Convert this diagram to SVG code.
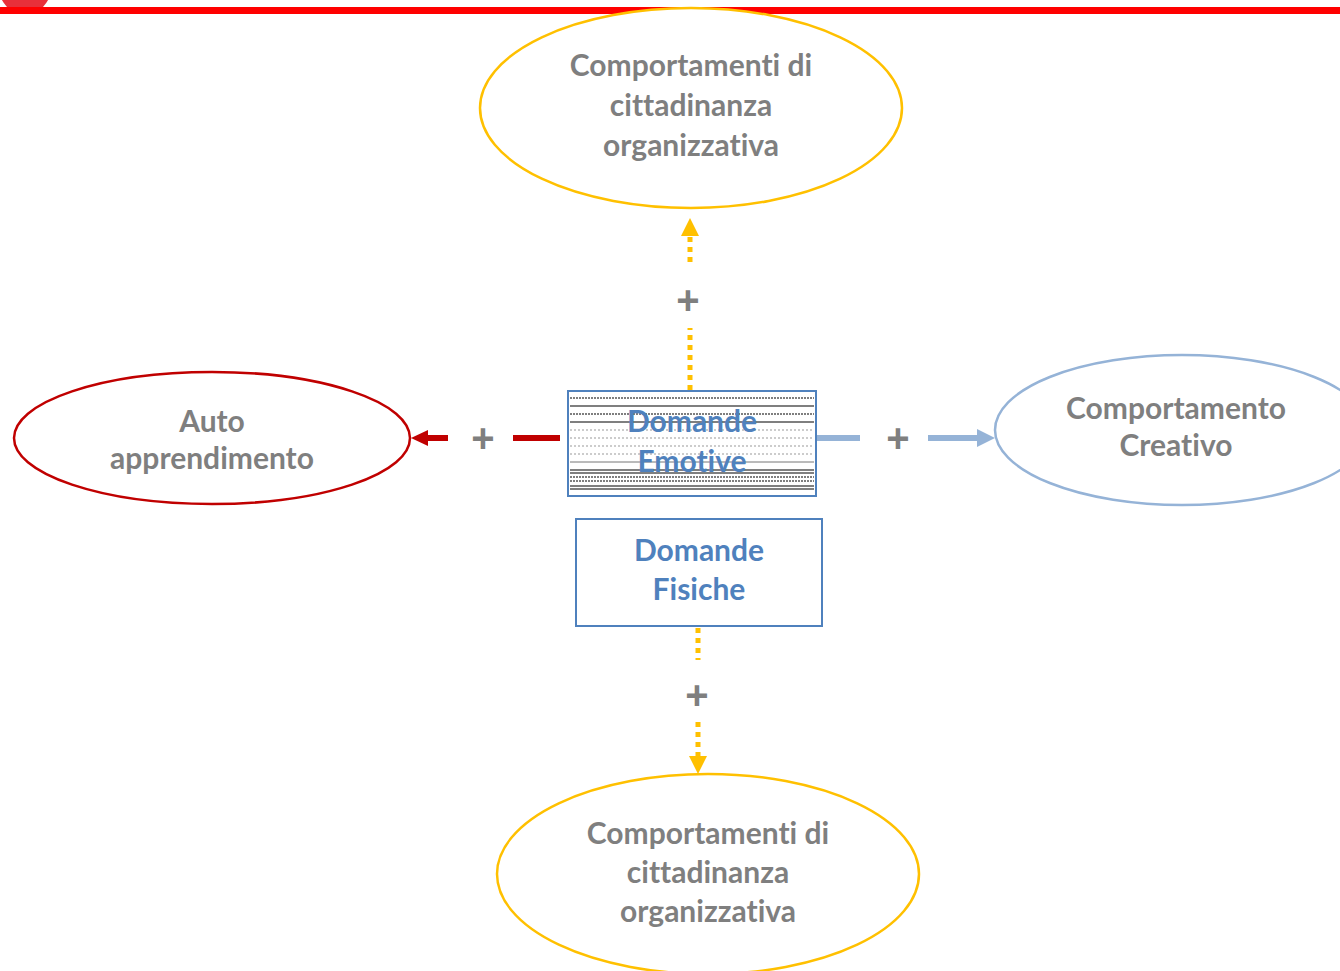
<svg xmlns="http://www.w3.org/2000/svg" width="1340" height="971" viewBox="0 0 1340 971">
<style>
.lbl{font-family:Lato,"Open Sans","Liberation Sans",sans-serif;font-weight:bold;font-size:30px;fill:#7f7f7f;text-anchor:middle;font-variant-ligatures:none}
.blu{font-family:Lato,"Open Sans","Liberation Sans",sans-serif;font-weight:bold;font-size:30px;fill:#4f81bd;text-anchor:middle;font-variant-ligatures:none}
.plus{font-family:"Liberation Sans",sans-serif;font-weight:bold;font-size:40px;fill:#7f7f7f;text-anchor:middle}
.hl{stroke:#000;stroke-width:1.2}
.hd{stroke:#000;stroke-width:1.2;stroke-dasharray:2 1}
.hg{stroke:#999;stroke-width:1;stroke-dasharray:2 2}
</style>
<rect width="1340" height="971" fill="#fff"/>
<g id="header">
<circle cx="25" cy="-12" r="26" fill="#e8303a"/>
<rect x="0" y="7" width="1340" height="7" fill="#ff0000"/>
</g>
<g id="connectors">
<line x1="690" y1="390" x2="690" y2="328" stroke="#ffc000" stroke-width="5" stroke-dasharray="5 5"/>
<line x1="690" y1="262" x2="690" y2="236" stroke="#ffc000" stroke-width="5" stroke-dasharray="5 5"/>
<polygon points="690,218 681,236 699,236" fill="#ffc000"/>
<text class="plus" x="688" y="314">+</text>
<line x1="698" y1="628" x2="698" y2="660" stroke="#ffc000" stroke-width="5" stroke-dasharray="5 5"/>
<line x1="698" y1="722" x2="698" y2="756" stroke="#ffc000" stroke-width="5" stroke-dasharray="5 5"/>
<polygon points="698,774 689,756 707,756" fill="#ffc000"/>
<text class="plus" x="697" y="709">+</text>
<line x1="560" y1="438" x2="513" y2="438" stroke="#c00000" stroke-width="6"/>
<line x1="448" y1="438" x2="425" y2="438" stroke="#c00000" stroke-width="6"/>
<polygon points="411,438 428,430 428,446" fill="#c00000"/>
<text class="plus" x="483" y="452">+</text>
<line x1="817" y1="438" x2="860" y2="438" stroke="#95b3d7" stroke-width="6"/>
<line x1="928" y1="438" x2="978" y2="438" stroke="#95b3d7" stroke-width="6"/>
<polygon points="995,438 977,429 977,447" fill="#95b3d7"/>
<text class="plus" x="898" y="452">+</text>
</g>
<g id="n-top">
<ellipse cx="691" cy="108" rx="211" ry="100" fill="#fff" stroke="#ffc000" stroke-width="2.5"/>
<text class="lbl" x="691" y="76">Comportamenti di</text>
<text class="lbl" x="691" y="116">cittadinanza</text>
<text class="lbl" x="691" y="156">organizzativa</text>
</g>
<g id="n-bottom">
<ellipse cx="708" cy="874" rx="211" ry="100" fill="#fff" stroke="#ffc000" stroke-width="2.5"/>
<text class="lbl" x="708" y="844">Comportamenti di</text>
<text class="lbl" x="708" y="883">cittadinanza</text>
<text class="lbl" x="708" y="922">organizzativa</text>
</g>
<g id="n-left">
<ellipse cx="212" cy="438" rx="198" ry="66" fill="#fff" stroke="#c00000" stroke-width="2.5"/>
<text class="lbl" x="212" y="432">Auto</text>
<text class="lbl" x="212" y="469">apprendimento</text>
</g>
<g id="n-right">
<ellipse cx="1182" cy="430" rx="187" ry="75" fill="#fff" stroke="#95b3d7" stroke-width="2.5"/>
<text class="lbl" x="1176" y="419">Comportamento</text>
<text class="lbl" x="1176" y="456">Creativo</text>
</g>
<g id="n-emotive">
<rect x="568" y="391" width="248" height="105" fill="#fff" stroke="#4f81bd" stroke-width="2"/>
<line class="hd" x1="570" y1="398" x2="814" y2="398"/>
<line class="hl" x1="570" y1="406" x2="814" y2="406"/>
<line class="hd" x1="570" y1="414" x2="814" y2="414"/>
<line class="hl" x1="570" y1="422" x2="814" y2="422"/>
<line class="hg" x1="570" y1="430" x2="814" y2="430"/>
<line class="hg" x1="570" y1="438" x2="814" y2="438"/>
<line class="hg" x1="570" y1="446" x2="814" y2="446"/>
<line class="hg" x1="570" y1="454" x2="814" y2="454"/>
<line stroke="#777" stroke-width="1" x1="570" y1="462" x2="814" y2="462"/>
<line class="hl" x1="570" y1="470" x2="814" y2="470"/>
<line class="hl" x1="570" y1="473" x2="814" y2="473"/>
<line class="hd" x1="570" y1="477" x2="814" y2="477"/>
<line class="hd" x1="570" y1="481" x2="814" y2="481"/>
<line class="hl" x1="570" y1="486" x2="814" y2="486"/>
<line class="hl" x1="570" y1="489" x2="814" y2="489"/>
<text class="blu" x="692" y="432">Domande</text>
<text class="blu" x="692" y="472">Emotive</text>
</g>
<g id="n-fisiche">
<rect x="576" y="519" width="246" height="107" fill="#fff" stroke="#4f81bd" stroke-width="2"/>
<text class="blu" x="699" y="561">Domande</text>
<text class="blu" x="699" y="600">Fisiche</text>
</g>
</svg>
